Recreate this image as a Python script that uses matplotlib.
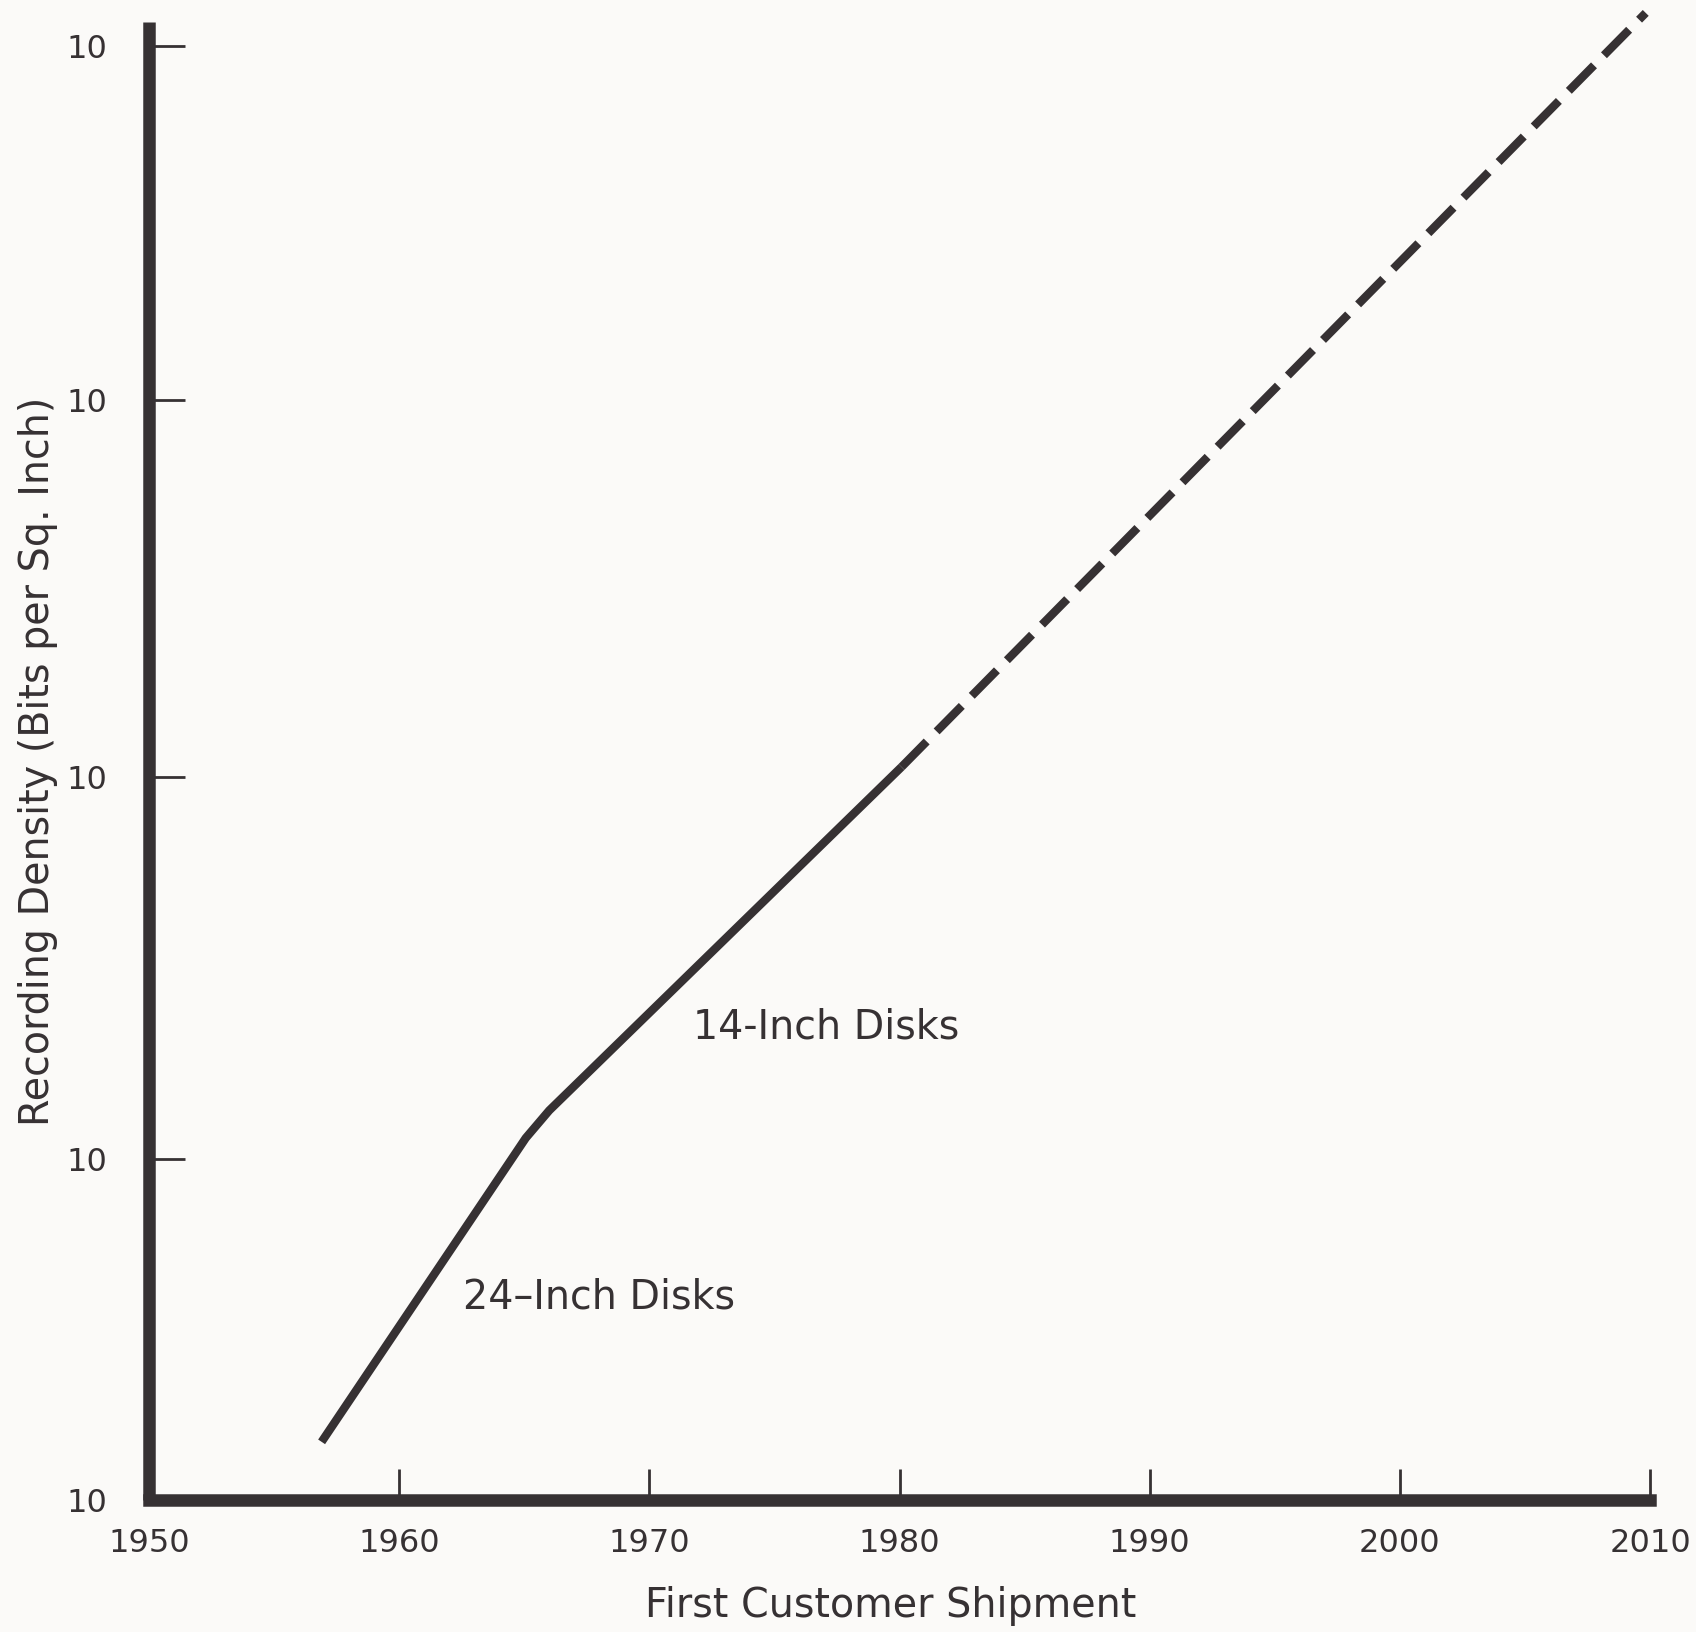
import matplotlib
matplotlib.use('Agg')
import matplotlib.pyplot as plt

# recording density trend, y in decades above the bottom of the axis
solid_years = [1956.9, 1965.06, 1966.0, 1980.08]
solid_decades = [0.16, 0.996, 1.072, 2.017]
dashed_years = [1980.08, 2009.83]
dashed_decades = [2.017, 4.092]

x_ticks = [1950, 1960, 1970, 1980, 1990, 2000, 2010]
x_labels = ['1950', '1960', '1970', '1980', '1990', '2000', '2010']
y_ticks = [0.0, 0.937, 1.99, 3.026, 4.0]
y_labels = ['10', '10', '10', '10', '10']

ink = '#363133'
paper = '#fbfaf8'

fig = plt.figure(figsize=(16.96, 16.32), dpi=100, facecolor=paper)
ax = fig.add_axes([149 / 1696, 132 / 1632, 1501 / 1696, 1490 / 1632])
ax.set_facecolor(paper)

ax.plot(solid_years, solid_decades, color=ink, lw=6,
        solid_capstyle='butt', solid_joinstyle='round')
ax.plot(dashed_years, dashed_decades, color=ink, lw=6,
        linestyle=(0, (4.3, 1.7)), dash_capstyle='butt')

ax.text(1971.75, 1.299, '14-Inch Disks', fontsize=28.5, color=ink,
        ha='left', va='center')
ax.text(1962.57, 0.556, '24\u2013Inch Disks', fontsize=28.5, color=ink,
        ha='left', va='center')

ax.set_xlim(1950, 2010.0)
ax.set_ylim(0, 4.10)

for s in ['top', 'right']:
    ax.spines[s].set_visible(False)
for s in ['left', 'bottom']:
    ax.spines[s].set_linewidth(9)
    ax.spines[s].set_color(ink)
ax.spines['left'].set_capstyle('butt')
ax.spines['bottom'].set_capstyle('projecting')
ax.spines['left'].set_bounds(0, 4.068)

ax.set_xticks(x_ticks)
ax.set_xticklabels(x_labels)
ax.set_yticks(y_ticks)
ax.set_yticklabels(y_labels)
ax.tick_params(axis='y', direction='in', length=26, width=2, color=ink,
               labelsize=23, labelcolor=ink, pad=30)
ax.tick_params(axis='x', direction='in', length=22, width=2, color=ink,
               labelsize=23, labelcolor=ink, pad=20)

fig.text(891 / 1696, (1632 - 1606) / 1632, 'First Customer Shipment',
         fontsize=28.5, color=ink, ha='center', va='center')
fig.text(38 / 1696, (1632 - 761) / 1632, 'Recording Density (Bits per Sq. Inch)',
         fontsize=28.5, color=ink, ha='center', va='center', rotation=90)

fig.savefig('out.png', dpi=100, facecolor=paper)
